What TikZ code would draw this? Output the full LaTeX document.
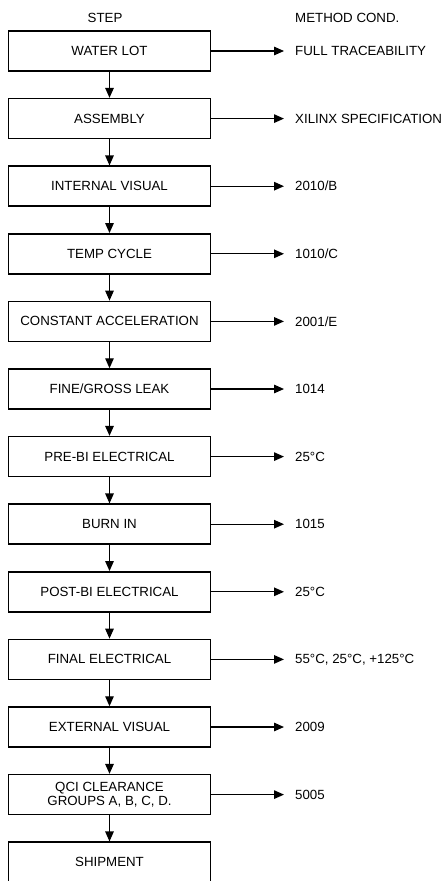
\documentclass[tikz,border=0pt]{standalone}
\usepackage{fontspec}
\setmainfont{Liberation Sans}
\usetikzlibrary{arrows.meta}
\begin{document}
\begin{tikzpicture}[x=1pt,y=-1pt,
  stepbox/.style={draw, line width=1.5pt, minimum width=202pt, minimum height=40pt,
    inner sep=0pt, align=center, font=\fontsize{13.3}{13.5}\selectfont},
  cond/.style={anchor=west, inner sep=0pt, font=\fontsize{13.3}{13.5}\selectfont},
  hdr/.style={inner sep=0pt, font=\fontsize{13.3}{13.5}\selectfont},
  flow/.style={line width=1.3pt, -{Triangle[length=10pt,width=8.5pt]}}]
\useasboundingbox (0,0) rectangle (443,881);
\fill[white] (0,0) rectangle (443,881);
\node[hdr] (hstep) at (105,18) {STEP};
\node[hdr, anchor=west] (hmeth) at (295,18) {METHOD COND.};
\def\rowy#1{51+(#1-1)*67.6}
\node[stepbox] (s1) at (109.5,{\rowy{1}}) {WATER LOT};
\node[stepbox] (s2) at (109.5,{\rowy{2}}) {ASSEMBLY};
\node[stepbox] (s3) at (109.5,{\rowy{3}}) {INTERNAL VISUAL};
\node[stepbox] (s4) at (109.5,{\rowy{4}}) {TEMP CYCLE};
\node[stepbox] (s5) at (109.5,{\rowy{5}}) {CONSTANT ACCELERATION};
\node[stepbox] (s6) at (109.5,{\rowy{6}}) {FINE/GROSS LEAK};
\node[stepbox] (s7) at (109.5,{\rowy{7}}) {PRE-BI ELECTRICAL};
\node[stepbox] (s8) at (109.5,{\rowy{8}}) {BURN IN};
\node[stepbox] (s9) at (109.5,{\rowy{9}}) {POST-BI ELECTRICAL};
\node[stepbox] (s10) at (109.5,{\rowy{10}}) {FINAL ELECTRICAL};
\node[stepbox] (s11) at (109.5,{\rowy{11}}) {EXTERNAL VISUAL};
\node[stepbox] (s12) at (109.5,{\rowy{12}}) {QCI CLEARANCE\\GROUPS A, B, C, D.};
\node[stepbox] (s13) at (109.5,{\rowy{13}}) {SHIPMENT};
\node[cond] (c1) at (295,{\rowy{1}}) {FULL TRACEABILITY};
\node[cond] (c2) at (295,{\rowy{2}}) {XILINX SPECIFICATION};
\node[cond] (c3) at (295,{\rowy{3}}) {2010/B};
\node[cond] (c4) at (295,{\rowy{4}}) {1010/C};
\node[cond] (c5) at (295,{\rowy{5}}) {2001/E};
\node[cond] (c6) at (295,{\rowy{6}}) {1014};
\node[cond] (c7) at (295,{\rowy{7}}) {25°C};
\node[cond] (c8) at (295,{\rowy{8}}) {1015};
\node[cond] (c9) at (295,{\rowy{9}}) {25°C};
\node[cond] (c10) at (295,{\rowy{10}}) {55°C, 25°C, +125°C};
\node[cond] (c11) at (295,{\rowy{11}}) {2009};
\node[cond] (c12) at (295,{\rowy{12}}) {5005};
\foreach \i in {1,...,12}{
  \draw[flow] (s\i.east) -- ([xshift=-11pt]c\i.west);
}
\foreach \i [evaluate=\i as \j using int(\i+1)] in {1,...,12}{
  \draw[flow] (s\i.south) -- (s\j.north);
}
\end{tikzpicture}
\end{document}
